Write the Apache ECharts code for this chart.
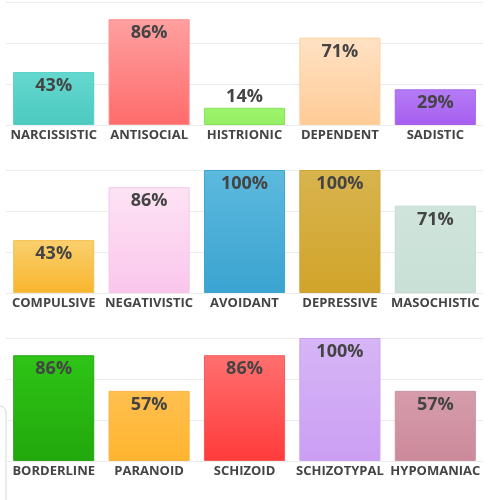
<!DOCTYPE html>
<html>
<head>
<meta charset="utf-8">
<script src="https://cdn.jsdelivr.net/npm/echarts@6/dist/echarts.min.js"></script>
<style>
  html, body { margin: 0; padding: 0; background: #fff; }
  #chart { width: 488px; height: 500px; }
</style>
</head>
<body>
<div id="chart"></div>
<script>
const categoriesTop = ['NARCISSISTIC', 'ANTISOCIAL', 'HISTRIONIC', 'DEPENDENT', 'SADISTIC']
const valuesTop = [43, 86, 14, 71, 29]

const categoriesMiddle = ['COMPULSIVE', 'NEGATIVISTIC', 'AVOIDANT', 'DEPRESSIVE', 'MASOCHISTIC']
const valuesMiddle = [43, 86, 100, 100, 71]

const categoriesBottom = ['BORDERLINE', 'PARANOID', 'SCHIZOID', 'SCHIZOTYPAL', 'HYPOMANIAC']
const valuesBottom = [86, 57, 86, 100, 57]

// gradient colours: [top, bottom, border]
const colorsTop = [
  ['#65d8cf', '#4ccac0', '#52cfc5'],
  ['#ffa0a0', '#ff6b6b', '#ff8f8f'],
  ['#9cf46c', '#94ee62', '#88e35a'],
  ['#ffe2c4', '#ffcb96', '#ffcf9e'],
  ['#b57cf6', '#a75ef0', '#a565ea']
]
const colorsMiddle = [
  ['#f9d06e', '#f9b52d', '#f5c050'],
  ['#fde3f4', '#fac6ec', '#f5c6ea'],
  ['#5db9de', '#3aa4d0', '#3fa5cf'],
  ['#d8b44e', '#d1a42a', '#cda335'],
  ['#cfe5dc', '#c9e0d7', '#c3dcd2']
]
const colorsBottom = [
  ['#2ec416', '#22a80c', '#2aa718'],
  ['#ffc050', '#ffb42e', '#f7b340'],
  ['#ff6f6f', '#ff3b3b', '#f55a5a'],
  ['#d6b6f6', '#cb9ef3', '#c9a3ee'],
  ['#d59cab', '#cc8a9b', '#c895a2']
]

const panelTops = [2, 170, 338]
const panelHeight = 123

const buildData = (values, colors) => values.map((v, i) => ({
  value: v,
  itemStyle: {
    color: new echarts.graphic.LinearGradient(0, 0, 0, 1, [
      { offset: 0, color: colors[i][0] },
      { offset: 1, color: colors[i][1] }
    ]),
    borderColor: colors[i][2],
    borderWidth: 1
  },
  label: v < 20 ? { position: 'top', distance: 2 } : undefined
}))

const panels = [
  [categoriesTop, valuesTop, colorsTop],
  [categoriesMiddle, valuesMiddle, colorsMiddle],
  [categoriesBottom, valuesBottom, colorsBottom]
]

const chart = echarts.init(document.getElementById('chart'))

const option = {
  animation: false,
  grid: panels.map((p, i) => ({
    left: 6,
    right: 5,
    top: panelTops[i],
    height: panelHeight
  })),
  xAxis: panels.map((p, i) => ({
    type: 'category',
    gridIndex: i,
    data: p[0],
    axisLine: { show: false },
    axisTick: { show: false },
    axisLabel: {
      color: '#444',
      fontFamily: 'Open Sans',
      fontWeight: 'bold',
      fontSize: 13,
      margin: 4,
      interval: 0
    }
  })),
  yAxis: panels.map((p, i) => ({
    type: 'value',
    gridIndex: i,
    min: 0,
    max: 100,
    interval: 100 / 3,
    axisLabel: { show: false },
    axisLine: { show: false },
    axisTick: { show: false },
    splitLine: { lineStyle: { color: '#ececec', width: 1 } }
  })),
  series: panels.map((p, i) => ({
    type: 'bar',
    xAxisIndex: i,
    yAxisIndex: i,
    barCategoryGap: '15%',
    data: buildData(p[1], p[2]),
    label: {
      show: true,
      position: 'insideTop',
      distance: 5,
      color: '#444',
      fontFamily: 'Open Sans',
      fontWeight: 'bold',
      fontSize: 18,
      formatter: '{c}%'
    }
  })),
  graphic: [
    {
      type: 'rect',
      shape: { x: -20, y: 406, width: 26, height: 120, r: 6 },
      style: { fill: 'none', stroke: '#d6d6d6', lineWidth: 1 }
    }
  ]
}

chart.setOption(option)
</script>
</body>
</html>
